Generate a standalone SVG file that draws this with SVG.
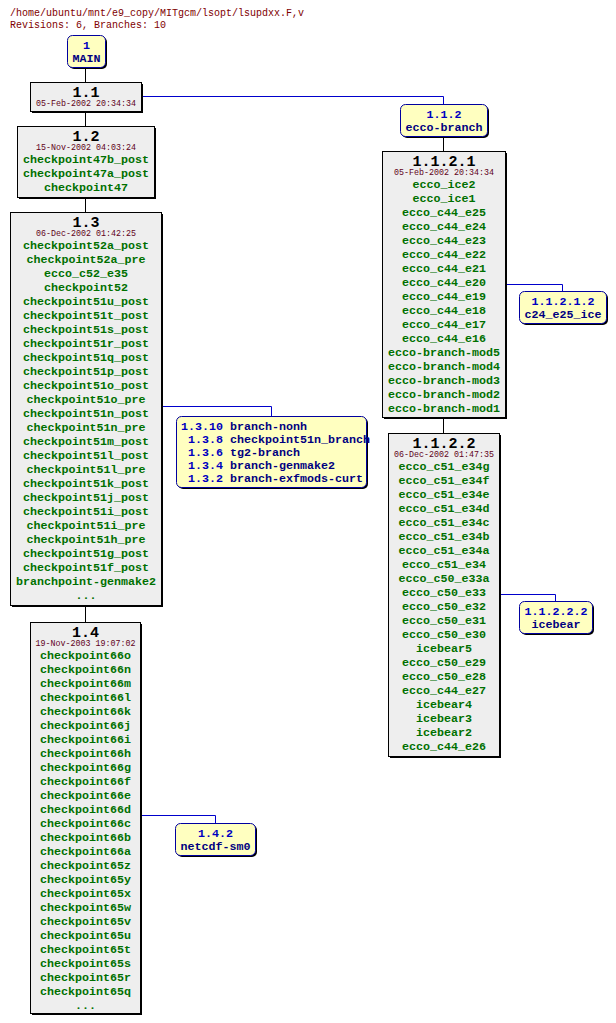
<svg xmlns="http://www.w3.org/2000/svg" width="616" height="1023" viewBox="0 0 616 1023">
<style>
text{font-family:"Liberation Mono","DejaVu Sans Mono",monospace}
.hdr{font-size:10px;fill:#800000}
.rv{fill:#eeeeee;stroke:#000;stroke-width:1}
.br{fill:#ffffc0;stroke:#0000a0;stroke-width:1}
.sh{fill:#000}
.ttl{font-size:15px;font-weight:bold;fill:#000;text-anchor:middle}
.dt{font-size:8.33px;fill:#600020;text-anchor:middle}
.tag{font-size:11.67px;font-weight:bold;fill:#007000;text-anchor:middle}
.bn{font-size:11.67px;font-weight:bold;fill:#0000c0;text-anchor:middle}
.bm{font-size:11.67px;font-weight:bold;fill:#000080;text-anchor:middle}
.bnr{font-size:11.67px;font-weight:bold;fill:#0000c0;text-anchor:end}
.bml{font-size:11.67px;font-weight:bold;fill:#000080}
.cb{fill:none;stroke:#000;stroke-width:1}
.cl{fill:none;stroke:#0000cc;stroke-width:1}
</style>
<rect width="616" height="1023" fill="#fff"/>
<text class="hdr" x="10" y="16">/home/ubuntu/mnt/e9_copy/MITgcm/lsopt/lsupdxx.F,v</text>
<text class="hdr" x="10" y="28">Revisions: 6, Branches: 10</text>
<g id="connectors">
<path class="cb" d="M85.5 67V82M85.5 111V126M85.5 197V212M85.5 605V622M443.5 136V151M443.5 417V433"/>
<path class="cl" d="M141 96.5H443.5V104M161 406.5H271.5V416M505 284.5H562.5V291M499 594.5H555.5V601M140 815.5H215.5V823"/>
</g>
<g id="b-MAIN">
<rect class="sh" x="69" y="37" width="38" height="32" rx="5"/>
<rect class="br" x="67.5" y="35.5" width="38" height="32" rx="5"/>
<text class="bn" x="86.5" y="49">1</text>
<text class="bm" x="86.5" y="62">MAIN</text>
</g>
<g id="r-1.1">
<rect class="sh" x="32" y="84" width="111" height="29"/>
<rect class="rv" x="30.5" y="82.5" width="111" height="29"/>
<text class="ttl" x="86" y="97">1.1</text>
<text class="dt" x="86" y="106">05-Feb-2002 20:34:34</text>
</g>
<g id="b-1.1.2">
<rect class="sh" x="402" y="106" width="87" height="32" rx="5"/>
<rect class="br" x="400.5" y="104.5" width="87" height="32" rx="5"/>
<text class="bn" x="444" y="118">1.1.2</text>
<text class="bm" x="444" y="131">ecco-branch</text>
</g>
<g id="r-1.2">
<rect class="sh" x="19" y="128" width="137" height="71"/>
<rect class="rv" x="17.5" y="126.5" width="137" height="71"/>
<text class="ttl" x="86" y="141">1.2</text>
<text class="dt" x="86" y="150">15-Nov-2002 04:03:24</text>
<text class="tag" x="86" y="163">checkpoint47b_post</text>
<text class="tag" x="86" y="177">checkpoint47a_post</text>
<text class="tag" x="86" y="191">checkpoint47</text>
</g>
<g id="r-1.3">
<rect class="sh" x="12" y="214" width="151" height="393"/>
<rect class="rv" x="10.5" y="212.5" width="151" height="393"/>
<text class="ttl" x="86" y="227">1.3</text>
<text class="dt" x="86" y="236">06-Dec-2002 01:42:25</text>
<text class="tag" x="86" y="249">checkpoint52a_post</text>
<text class="tag" x="86" y="263">checkpoint52a_pre</text>
<text class="tag" x="86" y="277">ecco_c52_e35</text>
<text class="tag" x="86" y="291">checkpoint52</text>
<text class="tag" x="86" y="305">checkpoint51u_post</text>
<text class="tag" x="86" y="319">checkpoint51t_post</text>
<text class="tag" x="86" y="333">checkpoint51s_post</text>
<text class="tag" x="86" y="347">checkpoint51r_post</text>
<text class="tag" x="86" y="361">checkpoint51q_post</text>
<text class="tag" x="86" y="375">checkpoint51p_post</text>
<text class="tag" x="86" y="389">checkpoint51o_post</text>
<text class="tag" x="86" y="403">checkpoint51o_pre</text>
<text class="tag" x="86" y="417">checkpoint51n_post</text>
<text class="tag" x="86" y="431">checkpoint51n_pre</text>
<text class="tag" x="86" y="445">checkpoint51m_post</text>
<text class="tag" x="86" y="459">checkpoint51l_post</text>
<text class="tag" x="86" y="473">checkpoint51l_pre</text>
<text class="tag" x="86" y="487">checkpoint51k_post</text>
<text class="tag" x="86" y="501">checkpoint51j_post</text>
<text class="tag" x="86" y="515">checkpoint51i_post</text>
<text class="tag" x="86" y="529">checkpoint51i_pre</text>
<text class="tag" x="86" y="543">checkpoint51h_pre</text>
<text class="tag" x="86" y="557">checkpoint51g_post</text>
<text class="tag" x="86" y="571">checkpoint51f_post</text>
<text class="tag" x="86" y="585">branchpoint-genmake2</text>
<text class="tag" x="86" y="599">...</text>
</g>
<g id="b-1.3.x">
<rect class="sh" x="178" y="418" width="190" height="71" rx="5"/>
<rect class="br" x="176.5" y="416.5" width="190" height="71" rx="5"/>
<text class="bnr" x="223" y="430">1.3.10</text>
<text class="bnr" x="223" y="443">1.3.8</text>
<text class="bnr" x="223" y="456">1.3.6</text>
<text class="bnr" x="223" y="469">1.3.4</text>
<text class="bnr" x="223" y="482">1.3.2</text>
<text class="bml" x="230" y="430">branch-nonh</text>
<text class="bml" x="230" y="443">checkpoint51n_branch</text>
<text class="bml" x="230" y="456">tg2-branch</text>
<text class="bml" x="230" y="469">branch-genmake2</text>
<text class="bml" x="230" y="482">branch-exfmods-curt</text>
</g>
<g id="r-1.4">
<rect class="sh" x="32" y="624" width="110" height="391"/>
<rect class="rv" x="30.5" y="622.5" width="110" height="391"/>
<text class="ttl" x="85.5" y="637">1.4</text>
<text class="dt" x="85.5" y="646">19-Nov-2003 19:07:02</text>
<text class="tag" x="85.5" y="659">checkpoint66o</text>
<text class="tag" x="85.5" y="673">checkpoint66n</text>
<text class="tag" x="85.5" y="687">checkpoint66m</text>
<text class="tag" x="85.5" y="701">checkpoint66l</text>
<text class="tag" x="85.5" y="715">checkpoint66k</text>
<text class="tag" x="85.5" y="729">checkpoint66j</text>
<text class="tag" x="85.5" y="743">checkpoint66i</text>
<text class="tag" x="85.5" y="757">checkpoint66h</text>
<text class="tag" x="85.5" y="771">checkpoint66g</text>
<text class="tag" x="85.5" y="785">checkpoint66f</text>
<text class="tag" x="85.5" y="799">checkpoint66e</text>
<text class="tag" x="85.5" y="813">checkpoint66d</text>
<text class="tag" x="85.5" y="827">checkpoint66c</text>
<text class="tag" x="85.5" y="841">checkpoint66b</text>
<text class="tag" x="85.5" y="855">checkpoint66a</text>
<text class="tag" x="85.5" y="869">checkpoint65z</text>
<text class="tag" x="85.5" y="883">checkpoint65y</text>
<text class="tag" x="85.5" y="897">checkpoint65x</text>
<text class="tag" x="85.5" y="911">checkpoint65w</text>
<text class="tag" x="85.5" y="925">checkpoint65v</text>
<text class="tag" x="85.5" y="939">checkpoint65u</text>
<text class="tag" x="85.5" y="953">checkpoint65t</text>
<text class="tag" x="85.5" y="967">checkpoint65s</text>
<text class="tag" x="85.5" y="981">checkpoint65r</text>
<text class="tag" x="85.5" y="995">checkpoint65q</text>
<text class="tag" x="85.5" y="1009">...</text>
</g>
<g id="b-1.4.2">
<rect class="sh" x="177" y="825" width="80" height="32" rx="5"/>
<rect class="br" x="175.5" y="823.5" width="80" height="32" rx="5"/>
<text class="bn" x="215.5" y="837">1.4.2</text>
<text class="bm" x="215.5" y="850">netcdf-sm0</text>
</g>
<g id="r-1.1.2.1">
<rect class="sh" x="384" y="153" width="123" height="266"/>
<rect class="rv" x="382.5" y="151.5" width="123" height="266"/>
<text class="ttl" x="444" y="166">1.1.2.1</text>
<text class="dt" x="444" y="175">05-Feb-2002 20:34:34</text>
<text class="tag" x="444" y="188">ecco_ice2</text>
<text class="tag" x="444" y="202">ecco_ice1</text>
<text class="tag" x="444" y="216">ecco_c44_e25</text>
<text class="tag" x="444" y="230">ecco_c44_e24</text>
<text class="tag" x="444" y="244">ecco_c44_e23</text>
<text class="tag" x="444" y="258">ecco_c44_e22</text>
<text class="tag" x="444" y="272">ecco_c44_e21</text>
<text class="tag" x="444" y="286">ecco_c44_e20</text>
<text class="tag" x="444" y="300">ecco_c44_e19</text>
<text class="tag" x="444" y="314">ecco_c44_e18</text>
<text class="tag" x="444" y="328">ecco_c44_e17</text>
<text class="tag" x="444" y="342">ecco_c44_e16</text>
<text class="tag" x="444" y="356">ecco-branch-mod5</text>
<text class="tag" x="444" y="370">ecco-branch-mod4</text>
<text class="tag" x="444" y="384">ecco-branch-mod3</text>
<text class="tag" x="444" y="398">ecco-branch-mod2</text>
<text class="tag" x="444" y="412">ecco-branch-mod1</text>
</g>
<g id="b-1.1.2.1.2">
<rect class="sh" x="521" y="293" width="87" height="32" rx="5"/>
<rect class="br" x="519.5" y="291.5" width="87" height="32" rx="5"/>
<text class="bn" x="563" y="305">1.1.2.1.2</text>
<text class="bm" x="563" y="318">c24_e25_ice</text>
</g>
<g id="r-1.1.2.2">
<rect class="sh" x="390" y="435" width="111" height="323"/>
<rect class="rv" x="388.5" y="433.5" width="111" height="323"/>
<text class="ttl" x="444" y="448">1.1.2.2</text>
<text class="dt" x="444" y="457">06-Dec-2002 01:47:35</text>
<text class="tag" x="444" y="470">ecco_c51_e34g</text>
<text class="tag" x="444" y="484">ecco_c51_e34f</text>
<text class="tag" x="444" y="498">ecco_c51_e34e</text>
<text class="tag" x="444" y="512">ecco_c51_e34d</text>
<text class="tag" x="444" y="526">ecco_c51_e34c</text>
<text class="tag" x="444" y="540">ecco_c51_e34b</text>
<text class="tag" x="444" y="554">ecco_c51_e34a</text>
<text class="tag" x="444" y="568">ecco_c51_e34</text>
<text class="tag" x="444" y="582">ecco_c50_e33a</text>
<text class="tag" x="444" y="596">ecco_c50_e33</text>
<text class="tag" x="444" y="610">ecco_c50_e32</text>
<text class="tag" x="444" y="624">ecco_c50_e31</text>
<text class="tag" x="444" y="638">ecco_c50_e30</text>
<text class="tag" x="444" y="652">icebear5</text>
<text class="tag" x="444" y="666">ecco_c50_e29</text>
<text class="tag" x="444" y="680">ecco_c50_e28</text>
<text class="tag" x="444" y="694">ecco_c44_e27</text>
<text class="tag" x="444" y="708">icebear4</text>
<text class="tag" x="444" y="722">icebear3</text>
<text class="tag" x="444" y="736">icebear2</text>
<text class="tag" x="444" y="750">ecco_c44_e26</text>
</g>
<g id="b-1.1.2.2.2">
<rect class="sh" x="521" y="603" width="73" height="32" rx="5"/>
<rect class="br" x="519.5" y="601.5" width="73" height="32" rx="5"/>
<text class="bn" x="556" y="615">1.1.2.2.2</text>
<text class="bm" x="556" y="628">icebear</text>
</g>
</svg>
